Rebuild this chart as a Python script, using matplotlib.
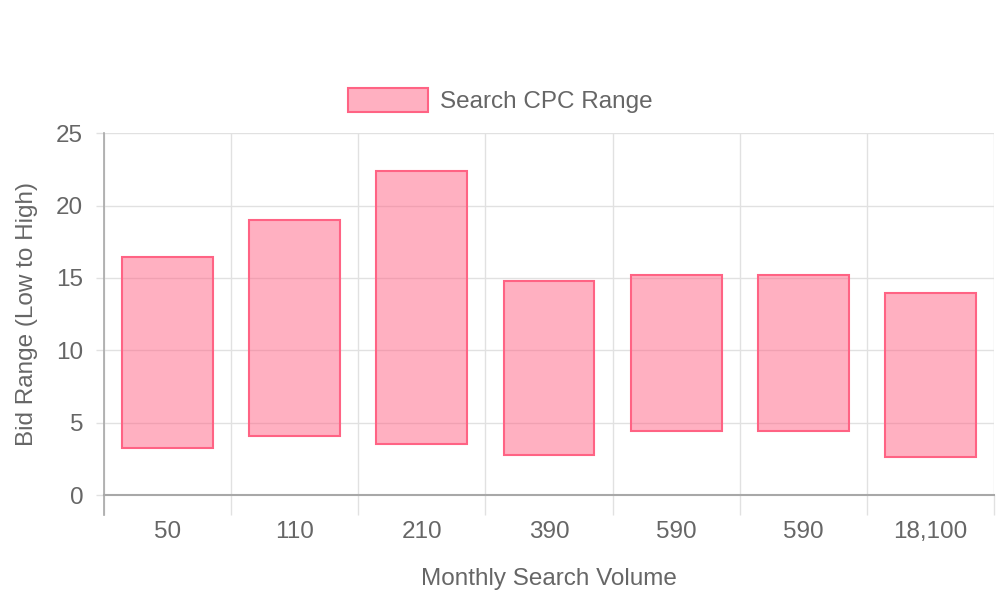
import matplotlib
matplotlib.use("Agg")
import matplotlib.pyplot as plt
import numpy as np

categories = ["50", "110", "210", "390", "590", "590", "18,100"]
low_values = [3.25, 4.1, 3.5, 2.74, 4.4, 4.4, 2.63]
high_values = [16.47, 19.0, 22.37, 14.81, 15.2, 15.2, 13.96]
y_ticks = [0, 5, 10, 15, 20, 25]

plt.rcParams['font.family'] = ['Liberation Sans', 'DejaVu Sans']
text_color = "#666666"
grid_color = "#e1e1e1"
axis_color = "#a8a8a8"
fill_color = (1.0, 99/255, 132/255, 0.5)
edge_color = (1.0, 99/255, 132/255, 1.0)
fs = 17.5

fig = plt.figure(figsize=(10, 6), dpi=100)
ax = fig.add_axes([0.104, 0.175, 0.890, 0.603])

x = np.arange(len(categories))
low = np.array(low_values)
high = np.array(high_values)
bars = ax.bar(x, high - low, bottom=low, width=0.715, color=fill_color,
              edgecolor=edge_color, linewidth=1.5, label="Search CPC Range", zorder=3)

ax.set_xlim(-0.5, len(categories) - 0.5)
ax.set_ylim(0, 25)
ax.set_yticks(y_ticks)
ax.set_xticks(x)
ax.set_xticklabels(categories)
ax.set_xticks(np.arange(-0.5, len(categories), 1.0), minor=True)

ax.tick_params(axis='x', which='major', length=0, pad=19, labelsize=fs, labelcolor=text_color)
ax.tick_params(axis='x', which='minor', length=14.5, width=1, color=grid_color)
ax.tick_params(axis='y', which='major', length=6, width=1, color=grid_color, pad=9,
               labelsize=fs, labelcolor=text_color)

ax.grid(True, axis='y', which='major', color=grid_color, linewidth=1, zorder=0)
ax.grid(True, axis='x', which='minor', color=grid_color, linewidth=1, zorder=0)
ax.grid(False, axis='x', which='major')

for side in ['top', 'right']:
    ax.spines[side].set_visible(False)
ax.spines['left'].set_color(axis_color)
ax.spines['bottom'].set_color(axis_color)
ax.spines['left'].set_linewidth(1.2)
ax.spines['bottom'].set_linewidth(1.5)
ax.spines['left'].set_zorder(4)
ax.spines['bottom'].set_zorder(4)

ax.plot([-0.5, -0.5], [0, -20/14.47], color=axis_color, linewidth=1.2, clip_on=False, zorder=4)

ax.set_xlabel("Monthly Search Volume", fontsize=fs, color=text_color, labelpad=18)
ax.set_ylabel("Bid Range (Low to High)", fontsize=fs, color=text_color, labelpad=13)

leg = fig.legend(handles=[bars], loc='center', bbox_to_anchor=(0.5, 0.832),
                 frameon=False, fontsize=fs, handlelength=3.3, handleheight=1.1,
                 handletextpad=0.5, labelcolor=text_color)

fig.savefig("out.png", dpi=100)
